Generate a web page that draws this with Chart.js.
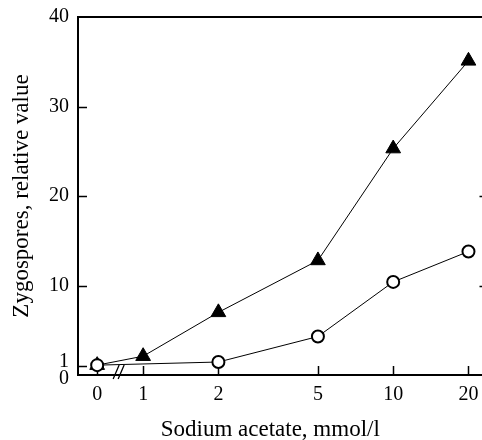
<!DOCTYPE html>
<html>
<head>
<meta charset="utf-8">
<script src="https://cdn.jsdelivr.net/npm/chart.js@4.4.1/dist/chart.umd.min.js"></script>
<style>
  html, body { margin: 0; padding: 0; background: #fff; overflow: hidden; }
  #wrap { width: 498px; height: 440px; position: relative; }
</style>
</head>
<body>
<div id="wrap"><canvas id="c" width="498" height="440"></canvas></div>
<script>
// ---- data ----
const xTickLabels = ['0', '1', '2', '5', '10', '20'];           // sodium acetate, mmol/l
const xPositions  = [0.655, 1, 2, 5, 10, 20];                   // "0" is placed left of the axis break
const triangleSeries = [1.1, 2.1, 7.0, 12.8, 25.3, 35.1];       // filled triangles
const circleSeries   = [1.1, null, 1.45, 4.3, 10.4, 13.8];      // open circles
const yTickValues = [0, 1, 10, 20, 30, 40];
const yRightTicks = [10, 20];
const xTitle = 'Sodium acetate, mmol/l';
const yTitle = 'Zygospores, relative value';

const FONT = "'Liberation Serif', 'Times New Roman', serif";

function toPoints(series) {
  const pts = [];
  series.forEach((v, i) => { if (v !== null) pts.push({ x: xPositions[i], y: v }); });
  return pts;
}

const decor = {
  id: 'decor',
  beforeDatasetsDraw(chart) {
    const { ctx, chartArea: a, scales: { x, y } } = chart;
    ctx.save();
    ctx.strokeStyle = '#000';
    ctx.lineWidth = 2;
    ctx.beginPath();
    ctx.moveTo(a.left, a.top); ctx.lineTo(a.right, a.top); ctx.lineTo(a.right, a.bottom);
    ctx.stroke();
    ctx.lineWidth = 1.5;
    ctx.beginPath();
    yTickValues.filter(v => v > 0 && v < 40).forEach(v => {
      const py = Math.round(y.getPixelForValue(v)) + 0.5;
      ctx.moveTo(a.left, py); ctx.lineTo(a.left + 9, py);
    });
    yRightTicks.forEach(v => {
      const py = Math.round(y.getPixelForValue(v)) + 0.5;
      ctx.moveTo(a.right, py); ctx.lineTo(a.right - 9, py);
    });
    xPositions.forEach(v => {
      const px = Math.round(x.getPixelForValue(v)) + 0.5;
      ctx.moveTo(px, a.bottom); ctx.lineTo(px, a.bottom - 9);
    });
    ctx.stroke();
    // axis break marks between 0 and 1
    const bx = (x.getPixelForValue(xPositions[0]) + x.getPixelForValue(xPositions[1])) / 2;
    ctx.lineWidth = 1.3;
    ctx.beginPath();
    ctx.moveTo(bx - 7, a.bottom + 4); ctx.lineTo(bx - 1, a.bottom - 10);
    ctx.moveTo(bx - 2, a.bottom + 4); ctx.lineTo(bx + 4, a.bottom - 10);
    ctx.stroke();
    // x-axis title
    ctx.fillStyle = '#000';
    ctx.font = '23px ' + FONT;
    ctx.textAlign = 'center';
    ctx.textBaseline = 'alphabetic';
    ctx.fillText(xTitle, (a.left + a.right) / 2 - 13, 436);
    ctx.restore();
  }
};

new Chart(document.getElementById('c'), {
  type: 'line',
  data: {
    datasets: [
      {
        label: 'circles',
        data: toPoints(circleSeries),
        borderColor: '#000', borderWidth: 1, tension: 0,
        pointStyle: 'circle', pointRadius: 6, pointBackgroundColor: '#fff',
        pointBorderColor: '#000', pointBorderWidth: 2, clip: false, order: 0
      },
      {
        label: 'triangles',
        data: toPoints(triangleSeries),
        borderColor: '#000', borderWidth: 1, tension: 0,
        pointStyle: 'triangle', pointRadius: 8.5, pointBackgroundColor: '#000',
        pointBorderColor: '#000', pointBorderWidth: 1, clip: false, order: 1
      }
    ]
  },
  options: {
    responsive: false,
    animation: false,
    devicePixelRatio: 1,
    layout: { padding: { top: 17, right: 2.5, left: 0, bottom: 0 } },
    plugins: { legend: { display: false }, tooltip: { enabled: false } },
    scales: {
      x: {
        type: 'logarithmic',
        min: 0.549, max: 24.05,
        afterBuildTicks: s => { s.ticks = xPositions.map(v => ({ value: v })); },
        afterFit: s => { s.height = 65; },
        ticks: {
          callback: (v, i) => xTickLabels[i],
          autoSkip: false, maxRotation: 0, padding: 8,
          color: '#000', font: { family: FONT, size: 20 }
        },
        grid: { display: false, drawTicks: false },
        border: { display: true, color: '#000', width: 2 },
        title: { display: false }
      },
      y: {
        type: 'linear',
        min: 0, max: 40,
        afterBuildTicks: s => { s.ticks = yTickValues.map(v => ({ value: v })); },
        afterFit: s => { s.width = 78; },
        ticks: {
          callback: v => v === 1 ? ['1', ''] : (v === 0 ? ['', '0'] : String(v)),
          padding: 9, color: '#000',
          font: { family: FONT, size: 20, lineHeight: 0.4 }
        },
        grid: { display: false, drawTicks: false },
        border: { display: true, color: '#000', width: 2 },
        title: {
          display: true, text: yTitle, color: '#000',
          font: { family: FONT, size: 23, lineHeight: 1 }, padding: { top: 10, bottom: 0 }
        }
      }
    }
  },
  plugins: [decor]
});
</script>
</body>
</html>
